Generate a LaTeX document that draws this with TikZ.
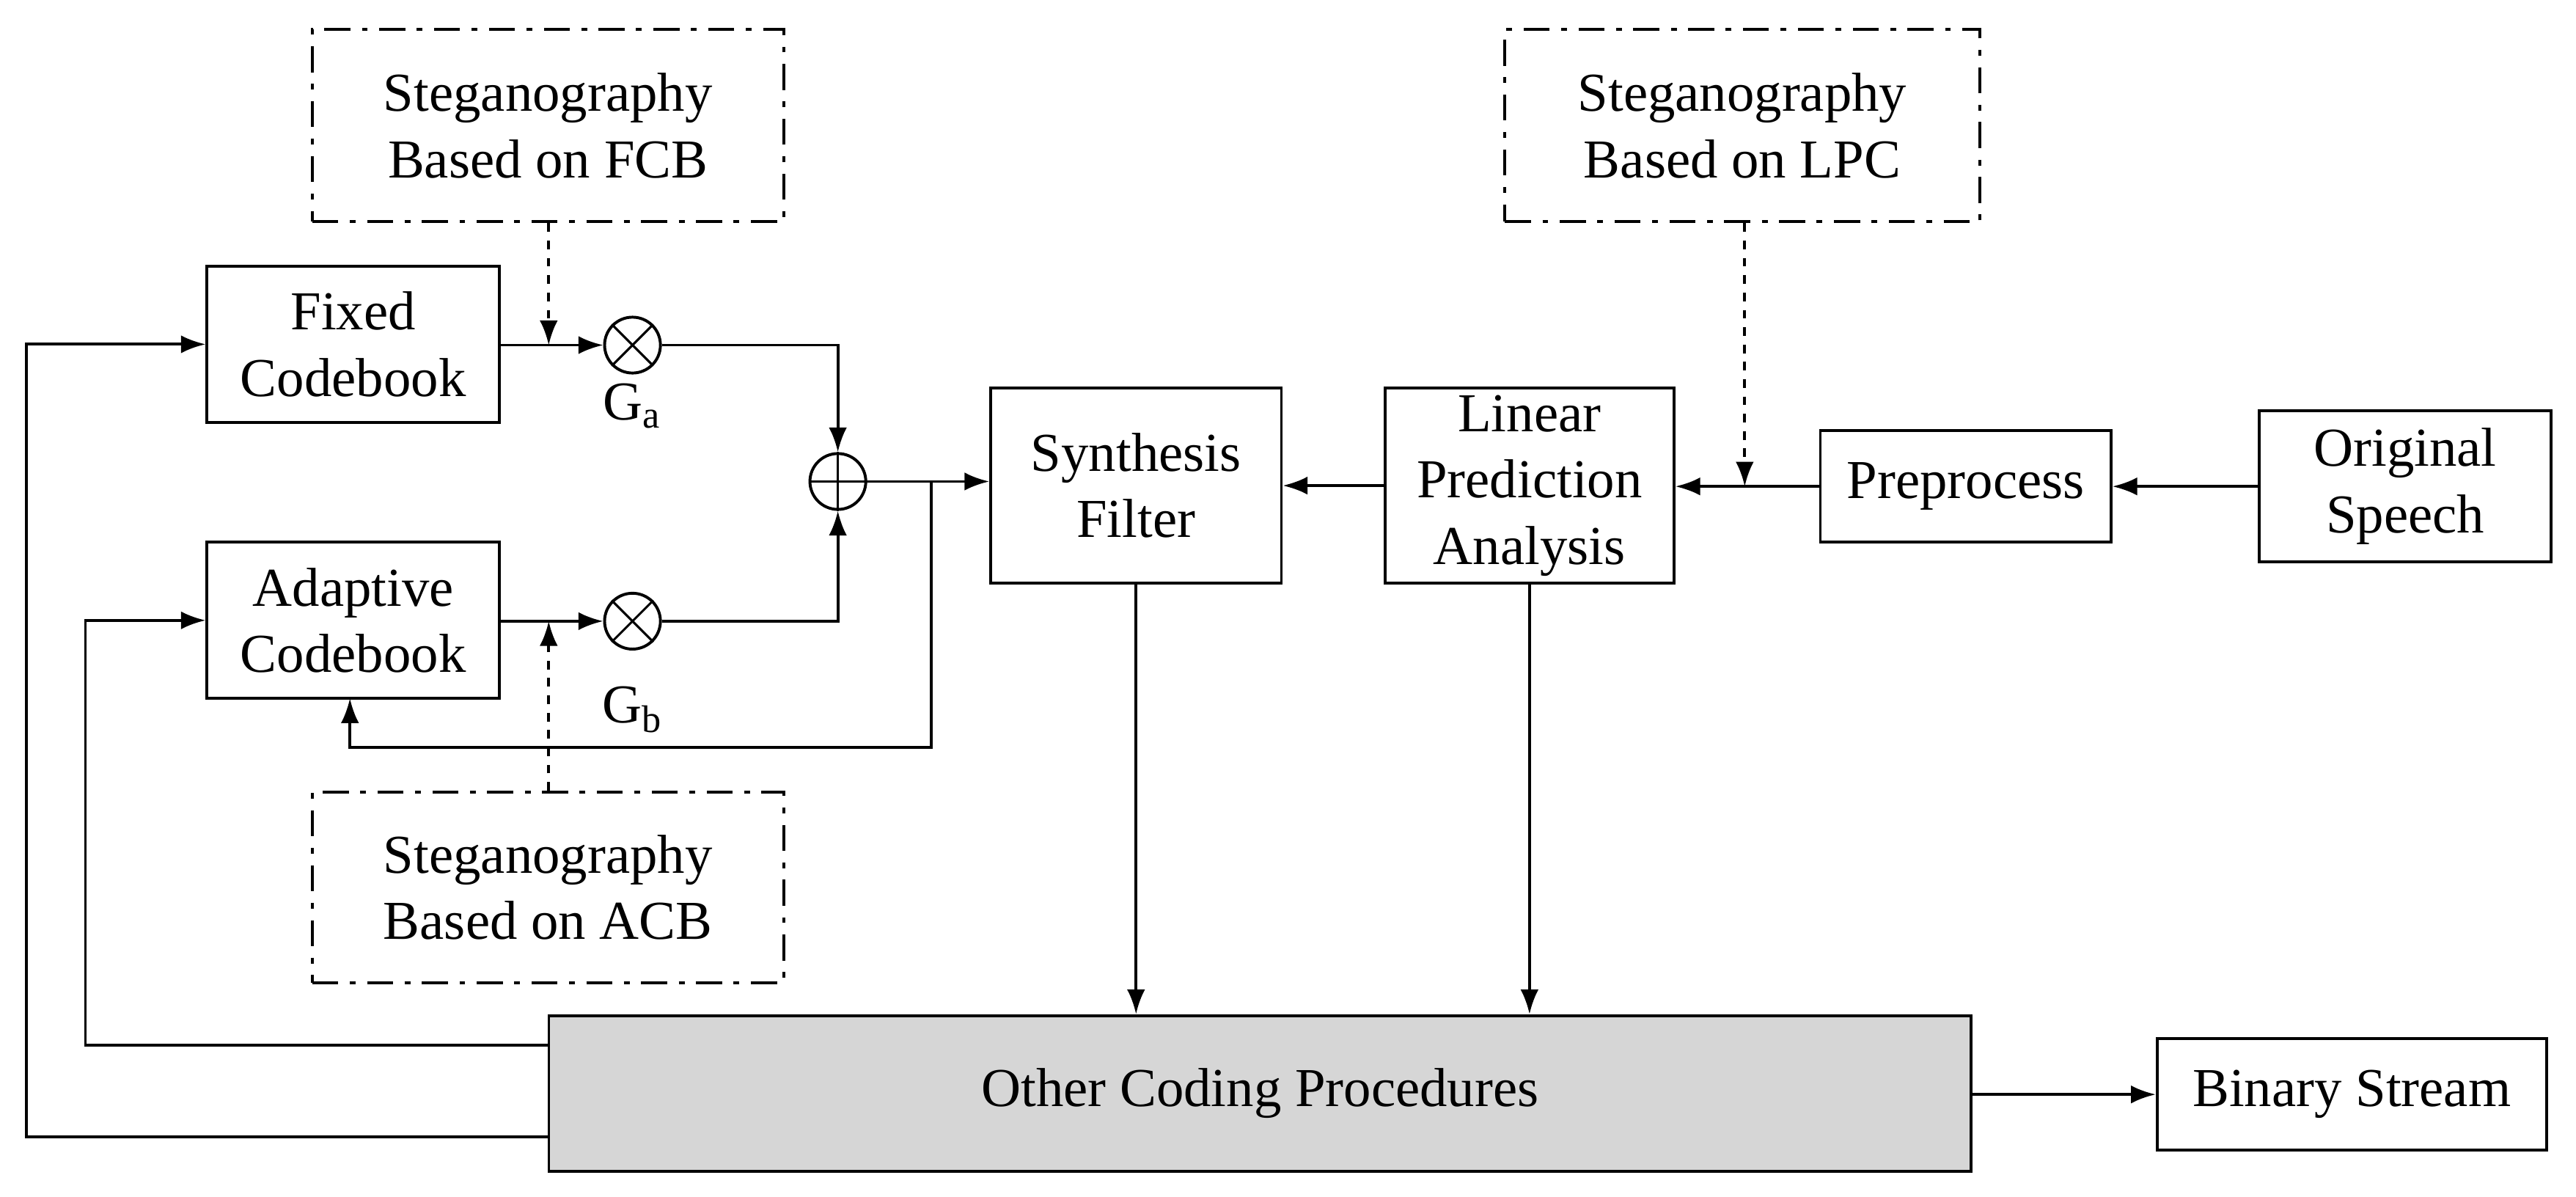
\documentclass[tikz,border=0pt]{standalone}
\usepackage{fontspec}
\setmainfont{Liberation Serif}
\usetikzlibrary{arrows.meta}
\usetikzlibrary{shapes.geometric}
\tikzstyle{block}=[draw=black, line width=1pt, shape=rectangle, align=center, inner sep=2pt, font=\fontsize{19}{23}\selectfont]
\tikzstyle{stegblock}=[block, dash pattern=on 9pt off 4pt on 2pt off 4pt]
\tikzstyle{opnode}=[draw=black, line width=1pt, shape=circle, minimum size=0.68cm, inner sep=0pt]
\tikzstyle{lbl}=[inner sep=0pt, font=\fontsize{19}{23}\selectfont]
\tikzstyle{flow}=[-{Latex[length=0.3cm, width=0.22cm]}, line width=1pt]

\begin{document}
\begin{tikzpicture}[x=0.02cm, y=-0.02cm]
\useasboundingbox (0,0) rectangle (1568,728);
\node [stegblock, minimum width=5.74cm, minimum height=2.34cm] (stegfcb) at (333.5,76.5) {Steganography\\Based on FCB};
\node [stegblock, minimum width=5.78cm, minimum height=2.34cm] (steglpc) at (1060.5,76.5) {Steganography\\Based on LPC};
\node [stegblock, minimum width=5.74cm, minimum height=2.32cm] (stegacb) at (333.5,540) {Steganography\\Based on ACB};
\node [block, minimum width=3.56cm, minimum height=1.9cm] (fixed) at (215,209.5) {Fixed\\Codebook};
\node [block, minimum width=3.56cm, minimum height=1.9cm] (adaptive) at (215,377.5) {Adaptive\\Codebook};
\node [opnode] (multa) at (385,210) {};
\node [opnode] (multb) at (385,378) {};
\node [opnode] (adder) at (510,293) {};
\draw [line width=0.8pt] (multa.north west) -- (multa.south east) (multa.north east) -- (multa.south west);
\draw [line width=0.8pt] (multb.north west) -- (multb.south east) (multb.north east) -- (multb.south west);
\draw [line width=0.8pt] (adder.north) -- (adder.south) (adder.west) -- (adder.east);
\node [lbl] (ga) at (385,247) {G\textsubscript{a}};
\node [lbl] (gb) at (385,432) {G\textsubscript{b}};
\node [block, minimum width=3.54cm, minimum height=2.38cm] (synth) at (691.5,295.5) {Synthesis\\Filter};
\node [block, minimum width=3.52cm, minimum height=2.38cm] (lpa) at (931,295.5) {Linear\\Prediction\\Analysis};
\node [block, minimum width=3.54cm, minimum height=1.36cm] (prep) at (1196.5,296) {Preprocess};
\node [block, minimum width=3.56cm, minimum height=1.84cm] (orig) at (1464,296) {Original\\Speech};
\node [block, fill=black!16, minimum width=17.32cm, minimum height=1.9cm] (other) at (767,665.5) {Other Coding Procedures};
\node [block, minimum width=4.74cm, minimum height=1.36cm] (binary) at (1431.5,666) {Binary Stream};

\coordinate (fcbin) at (334,210);
\coordinate (acbin) at (334,378);
\coordinate (lpcin) at (1062,296);
\draw [flow] (fixed.east |- multa) -- (multa);
\draw [flow, dashed] (stegfcb.south -| fcbin) -- (fcbin);
\draw [flow] (adaptive.east |- multb) -- (multb);
\draw [flow, dashed] (stegacb.north -| acbin) -- (acbin);
\draw [flow] (multa) -| (adder);
\draw [flow] (multb) -| (adder);
\draw [flow] (adder) -- (synth.west |- adder);
\draw [flow] (567,293) -- (567,455) -| (213,425);
\draw [flow] (lpa) -- (synth);
\draw [flow] (prep) -- (lpa.east |- prep);
\draw [flow, dashed] (steglpc.south -| lpcin) -- (lpcin);
\draw [flow] (orig) -- (prep);
\draw [flow] (synth.south) -- (other.north -| synth.south);
\draw [flow] (lpa.south) -- (other.north -| lpa.south);
\draw [flow] (other.east |- binary) -- (binary);
\draw [flow] (other.west |- 0,636) -- (52,636) |- (adaptive.west);
\draw [flow] (other.west |- 0,692) -- (16,692) |- (fixed.west);
\end{tikzpicture}
\end{document}
